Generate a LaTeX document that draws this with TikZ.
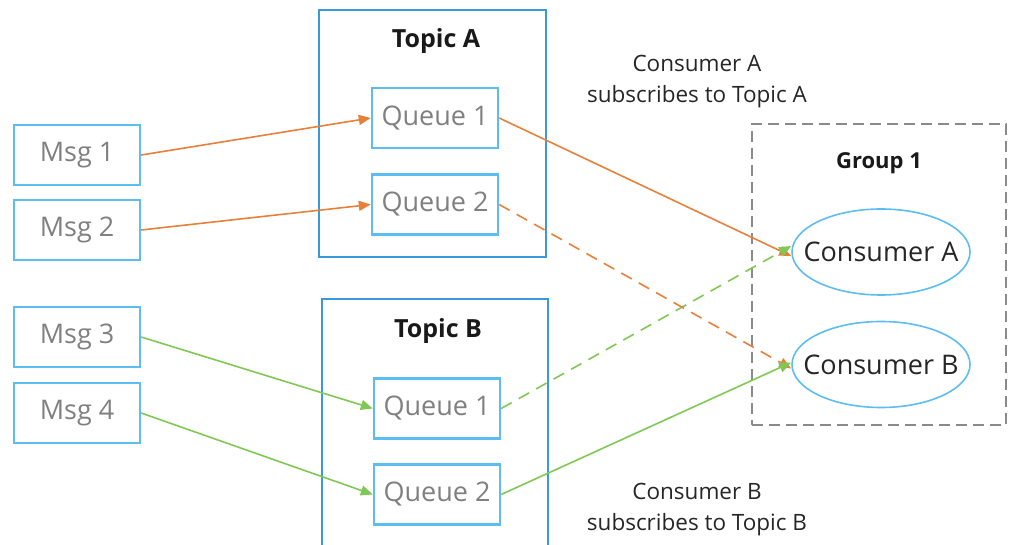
\documentclass[tikz,border=0pt]{standalone}
\usepackage{fontspec}
\setmainfont{Open Sans}
\usetikzlibrary{arrows.meta,shapes.geometric}
\definecolor{boxblue}{HTML}{5BBDF0}
\definecolor{topicblue}{HTML}{3A9AD9}
\definecolor{orng}{HTML}{E8803A}
\definecolor{grn}{HTML}{80C855}
\definecolor{txtgray}{HTML}{808080}
\definecolor{dgray}{HTML}{8A8A8A}
\tikzset{
  msgbox/.style={draw=boxblue,line width=2.4pt,minimum width=126pt,minimum height=60pt,inner sep=0pt,text=txtgray,font=\fontsize{27}{30}\selectfont},
  qbox/.style={draw=boxblue,line width=2.4pt,minimum width=126pt,minimum height=60pt,inner sep=0pt,text=txtgray,font=\fontsize{27}{30}\selectfont},
  topicbox/.style={draw=topicblue,line width=2pt,inner sep=0pt},
  title/.style={font=\fontsize{25}{28}\selectfont\bfseries,text=black!90},
  cons/.style={ellipse,draw=boxblue,line width=1.6pt,minimum width=178pt,minimum height=86pt,inner sep=0pt},
  constext/.style={text=black!85,font=\fontsize{27}{30}\selectfont},
  lbl/.style={align=center,font=\fontsize{22.5}{31}\selectfont,text=black!85},
  oarr/.style={draw=orng,line width=1.6pt,-{Triangle[length=12pt,width=10pt]}},
  garr/.style={draw=grn,line width=1.6pt,-{Triangle[length=12pt,width=10pt]}},
  dsh/.style={dash pattern=on 12pt off 8pt}
}
\begin{document}
\begin{tikzpicture}[x=1pt,y=-1pt]
\useasboundingbox (0,0) rectangle (1010,545);
% group
\node[draw=dgray,line width=1.8pt,dash pattern=on 11pt off 6pt,minimum width=254pt,minimum height=301pt,inner sep=0pt] (grp) at (879,274.5) {};
\node[title,font=\fontsize{22}{26}\selectfont\bfseries] (gt) at (879,163) {Group 1};
% topics
\node[topicbox,minimum width=227pt,minimum height=247pt] (ta) at (432.5,133.5) {};
\node[title] (tat) at (436,41) {Topic A};
\draw[topicblue,line width=2pt] (322,560) |- (548,299) -- (548,560);
\coordinate (tb) at (435,299);
\node[title] (tbt) at (438,331) {Topic B};
% msgs
\node[msgbox] (m1) at (77,155) {Msg 1};
\node[msgbox] (m2) at (77,230) {Msg 2};
\node[msgbox] (m3) at (77,337) {Msg 3};
\node[msgbox] (m4) at (77,413) {Msg 4};
% queues
\node[qbox] (qa1) at (435,118) {Queue 1};
\node[qbox] (qa2) at (435,204.5) {Queue 2};
\node[qbox] (qb1) at (437,408.5) {Queue 1};
\node[qbox] (qb2) at (437,494.5) {Queue 2};
% consumers
\node[cons,label={[constext]center:Consumer A}] (ca) at (881,252) {};
\node[cons,label={[constext]center:Consumer B}] (cb) at (881,364.5) {};
% labels
\node[lbl] (la) at (697,82) {Consumer A\\subscribes to Topic A};
\node[lbl] (lb) at (697,510) {Consumer B\\subscribes to Topic B};
% arrows
\draw[oarr] (qa1.east) -- ([yshift=-4pt]ca.west);
\draw[garr,dsh] (qb1.east) -- ([yshift=6pt]ca.west);
\draw[oarr,dsh] (qa2.east) -- ([yshift=-4pt]cb.west);
\draw[garr] (qb2.east) -- ([yshift=2pt]cb.west);
\draw[oarr] (m1.east) -- (qa1.west);
\draw[oarr] (m2.east) -- (qa2.west);
\draw[garr] (m3.east) -- (qb1.west);
\draw[garr] (m4.east) -- (qb2.west);
\end{tikzpicture}
\end{document}
